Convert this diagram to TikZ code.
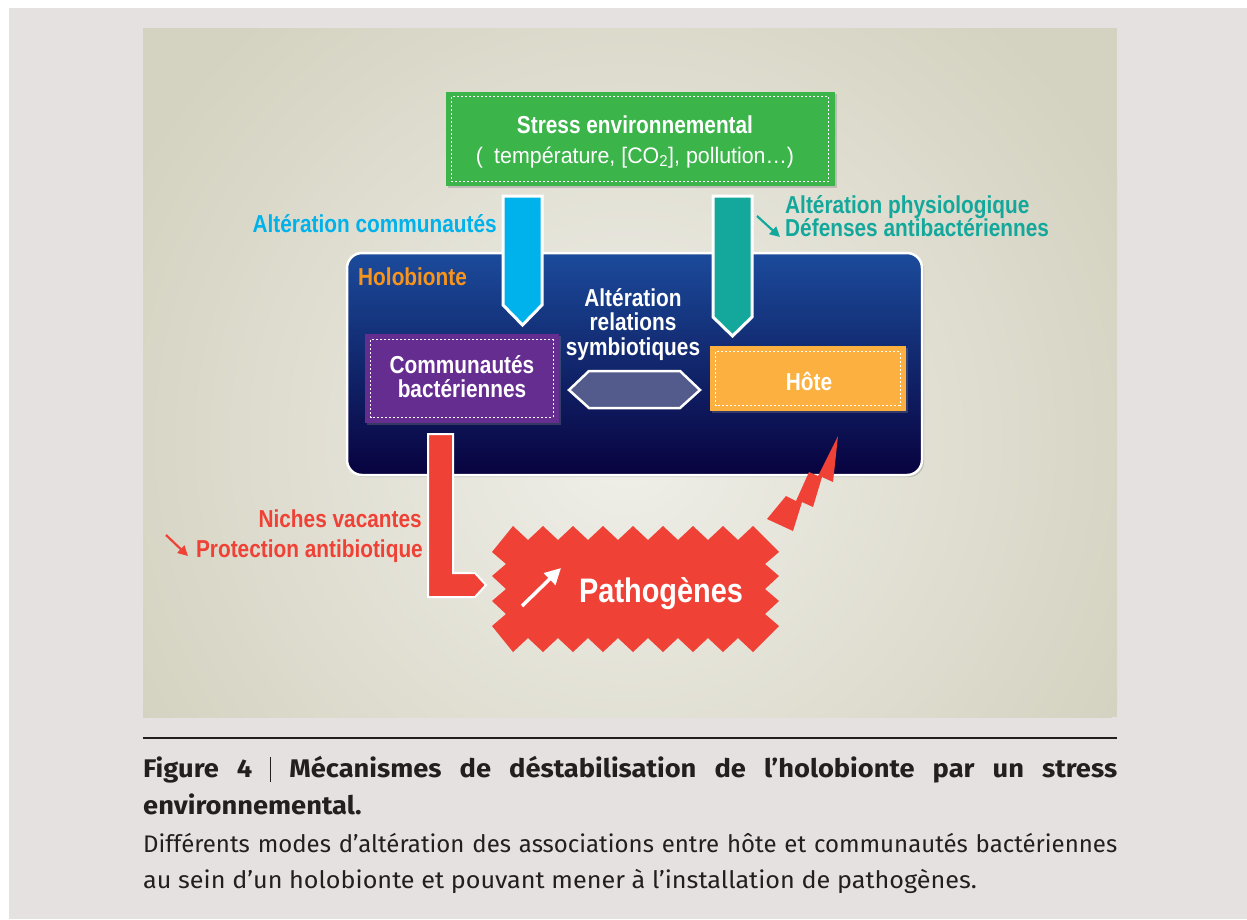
\documentclass[tikz,border=0pt]{standalone}
\usepackage{fontspec}
\setmainfont{Liberation Sans}
\newfontfamily\cnd[FakeStretch=0.85]{Liberation Sans}
\newfontfamily\cndr[FakeStretch=0.95]{Liberation Sans}
\newfontfamily\capf[FakeStretch=1.05]{Fira Sans}
\newfontfamily\capfn[FakeStretch=1.0]{Fira Sans}
\newfontfamily\capfb[FakeStretch=1.07]{Fira Sans}
\usetikzlibrary{arrows.meta,shadows}
\definecolor{pagegray}{HTML}{E5E1E0}
\definecolor{panel}{HTML}{D4D2C0}
\definecolor{panellight}{HTML}{F0EFE9}
\definecolor{greenA}{HTML}{3BB44A}
\definecolor{cyanA}{HTML}{00B2EB}
\definecolor{tealA}{HTML}{13A89B}
\definecolor{purpleA}{HTML}{662D91}
\definecolor{orangeA}{HTML}{FBB040}
\definecolor{redA}{HTML}{EF4136}
\definecolor{orangeT}{HTML}{F7941D}
\definecolor{hexA}{HTML}{525B8B}
\definecolor{capc}{HTML}{231F20}
\definecolor{holotop}{HTML}{1B4B9B}
\definecolor{holomid}{HTML}{1A2E75}
\definecolor{holobot}{HTML}{08023F}
\tikzset{
  lbl/.style={inner sep=0pt, anchor=base, font=\cnd\bfseries\fontsize{24.5}{26}\selectfont},
  boxA/.style={inner sep=0pt, draw=none, drop shadow={opacity=0.35, shadow xshift=2pt, shadow yshift=-2pt}},
  inset/.style={draw=white, dash pattern=on 2pt off 2pt, line width=0.8pt},
  bigarrow/.style={draw=white, line width=3pt, line join=miter},
  capreg/.style={inner sep=0pt, anchor=base west, text=capc, font=\capf\fontsize{24}{26}\selectfont},
  capbold/.style={inner sep=0pt, anchor=base west, text=capc, font=\capfb\bfseries\fontsize{25.5}{28}\selectfont},
}
\begin{document}
\begin{tikzpicture}[x=1pt,y=-1pt]
\useasboundingbox (0,0) rectangle (1247,919);
\fill[white] (0,0) rectangle (1247,919);
\fill[pagegray] (9,8) rectangle (1247,919);
% panel
\fill[panel] (143,28) rectangle (1117,717);
\begin{scope}
\clip (143,28) rectangle (1117,717);
\shade[inner color=panellight, outer color=panel] (625,440) circle (560pt);
\end{scope}

% holobionte box
\node[boxA, rounded corners=15pt, top color=holotop, middle color=holomid, bottom color=holobot, draw=white, line width=2.5pt, minimum width=575pt, minimum height=222pt] (holo) at (634.5,364) {};
\node[lbl, anchor=base west, text=orangeT] (holot) at (358,285) {Holobionte};

% green box
\node[boxA, fill=greenA, minimum width=389pt, minimum height=94pt] (stress) at (640,139) {};
\draw[inset] ([shift={(6pt,-5pt)}]stress.north west) rectangle ([shift={(-6pt,5pt)}]stress.south east);
\node[lbl, text=white] (stress1) at (635,133) {Stress environnemental};
\node[inner sep=0pt, anchor=base, text=white, font=\cndr\fontsize{22.5}{24}\selectfont] (stress2) at (635,163) {(\enspace température, [CO\textsubscript{2}], pollution…)};

% purple box
\node[boxA, fill=purpleA, minimum width=194pt, minimum height=89pt] (comm) at (462,378.5) {};
\draw[inset] ([shift={(6pt,-6pt)}]comm.north west) rectangle ([shift={(-6pt,6pt)}]comm.south east);
\node[lbl, text=white] (comm1) at (462,373) {Communautés};
\node[lbl, text=white] (comm2) at (462,397) {bactériennes};

% orange box
\node[boxA, fill=orangeA, minimum width=196pt, minimum height=65pt] (hote) at (808,378.5) {};
\draw[inset] ([shift={(6pt,-6pt)}]hote.north west) rectangle ([shift={(-6pt,6pt)}]hote.south east);
\node[lbl, text=white] (hotet) at (809,390) {Hôte};

% hexagon
\filldraw[fill=hexA, draw=white, line width=2.5pt] (569,390) -- (589,371) -- (680,371) -- (700,390) -- (680,408) -- (589,408) -- cycle;
\node[lbl, text=white] (rel1) at (633,306) {Altération};
\node[lbl, text=white] (rel2) at (633,330) {relations};
\node[lbl, text=white] (rel3) at (633,355) {symbiotiques};

% big arrows
\filldraw[fill=cyanA, bigarrow] (503,196) -- (542,196) -- (542,305) -- (522.5,325) -- (503,305) -- cycle;
\filldraw[fill=tealA, bigarrow] (713,196) -- (752,196) -- (752,317) -- (732.5,336) -- (713,317) -- cycle;
\node[lbl, anchor=base east, text=cyanA] (altc) at (497,232) {Altération communautés};
\node[lbl, anchor=base west, text=tealA] (altp) at (785,213) {Altération physiologique};
\node[lbl, anchor=base west, text=tealA] (defa) at (785,236) {Défenses antibactériennes};
\coordinate (ta1) at (757,216);
\coordinate (ta2) at (780,237);
\draw[tealA, line width=2.2pt, -{Triangle[length=10pt,width=10pt]}] (ta1) -- (ta2);

% red L arrow
\filldraw[fill=redA, draw=white, line width=2pt, line join=miter] (428,434) -- (453,434) -- (453,573) -- (475,573) -- (486,585) -- (475,597) -- (428,597) -- cycle;
\node[lbl, anchor=base east, text=redA] (niche) at (422,527) {Niches vacantes};
\node[lbl, anchor=base east, text=redA] (prot) at (423,557) {Protection antibiotique};
\coordinate (ra1) at (166,535);
\coordinate (ra2) at (188,556);
\draw[redA, line width=2.2pt, -{Triangle[length=10pt,width=10pt]}] (ra1) -- (ra2);

% pathogenes burst
\fill[redA] (492,552) \foreach \i in {0,...,7} { -- ({513+30*\i},526) -- ({528+30*\i},540) } -- (753,526) -- (779,552)
  -- (765,564) -- (779,576) -- (765,589) -- (779,601) -- (765,614) -- (779,626) -- (753,652)
  \foreach \i in {0,...,7} { -- ({738-30*\i},638) -- ({723-30*\i},652) }
  -- (492,626) -- (506,614) -- (492,601) -- (506,589) -- (492,576) -- (506,564) -- cycle;
\node[lbl, anchor=base west, text=white, font=\cnd\bfseries\fontsize{34}{36}\selectfont] (patho) at (579,602) {Pathogènes};
\coordinate (pa1) at (522,606);
\coordinate (pa2) at (561,568);
\draw[white, line width=3.5pt, -{Triangle[length=16pt,width=16pt]}] (pa1) -- (pa2);

% lightning bolt
\fill[redA] (838,436) -- (833,482) -- (822,477) -- (813,507) -- (802,502) -- (793,531) -- (767,519) -- (786,496) -- (796,501) -- (809,472) -- (818,476) -- cycle;

% caption
\draw[capc, line width=2.5pt] (143,738) -- (1117,738);
\node[capbold] (cap1) at (143,777) {\spaceskip=0.2em plus 1em minus 0.05em\makebox[974pt][s]{Figure 4 \rule[-5pt]{0.9pt}{25pt} Mécanismes de déstabilisation de l’holobionte par un stress}};
\node[capbold] (cap2) at (143,814) {environnemental.};
\node[capreg, font=\capfn\fontsize{24}{26}\selectfont] (cap3) at (143,852) {\makebox[974pt][s]{Différents modes d’altération des associations entre hôte et communautés bactériennes}};
\node[capreg] (cap4) at (143,888) {au sein d’un holobionte et pouvant mener à l’installation de pathogènes.};
\end{tikzpicture}
\end{document}
